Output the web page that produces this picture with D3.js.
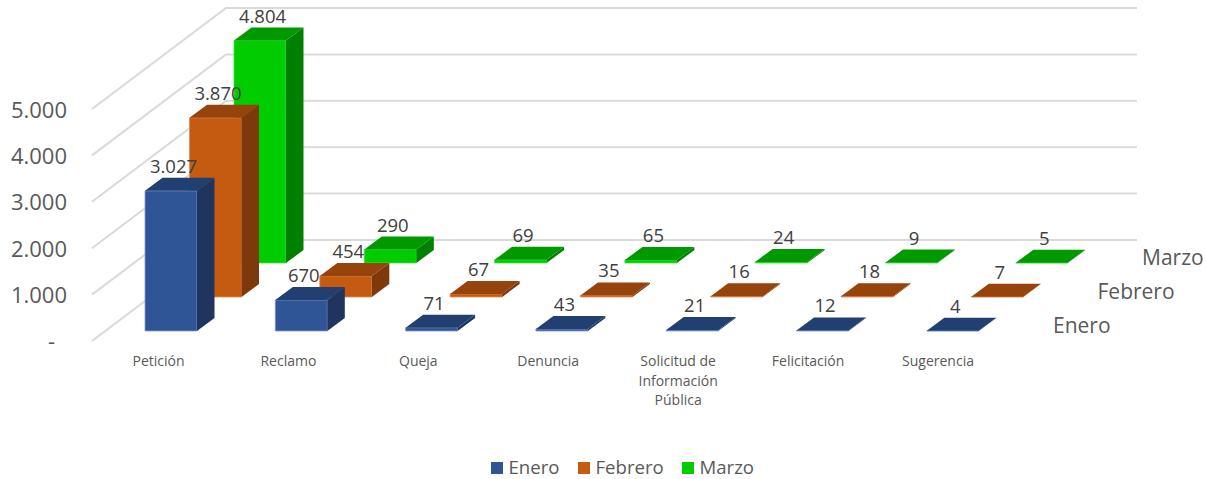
<!DOCTYPE html>
<html><head><meta charset="utf-8">
<script src="https://cdn.jsdelivr.net/npm/d3@7"></script>
<style>html,body{margin:0;padding:0;background:#fff}svg{display:block}text{font-family:"Open Sans",sans-serif}</style>
</head><body><svg id="c" width="1206" height="479"></svg>
<script>
const categories=["Petición","Reclamo","Queja","Denuncia","Solicitud de|Información|Pública","Felicitación","Sugerencia"];
const seriesNames=["Enero","Febrero","Marzo"];
const enero=[3027,670,71,43,21,12,4];
const febrero=[3870,454,67,35,16,18,7];
const marzo=[4804,290,69,65,24,9,5];
const yTicks=[0,1000,2000,3000,4000,5000];
const frontColors=["#2F5597","#C55A11","#00CC00"];
const sideColors=["#1F3560","#7D390B","#008000"];
const topColors=["#223F72","#96430C","#009A00"];
const edgeColors=["#7F9AD0","#E08A50","#40E040"];

const seriesValues=[enero,febrero,marzo];
const svg=d3.select("#c");
const x=d3.scaleBand().domain(categories).range([145,145+130.3*7]).paddingInner(0).paddingOuter(0);
const xLabel=d3.scalePoint().domain(categories).range([158.5,938]);
const barW=52;
const h=d3.scaleLinear().domain([0,5000]).range([0,231.5]);
const depthX=d3.scalePoint().domain(seriesNames).range([0,89]);
const depthY=d3.scalePoint().domain(seriesNames).range([331,263]);
const dx=17.5,dy=-13;
const locale=d3.formatLocale({decimal:",",thousands:".",grouping:[3],currency:["$",""]});
const fmt=locale.format(",d");

// Gridlines: side wall + back wall
const wallY=d3.scaleLinear().domain([0,5000]).range([240,8]);
const line=d3.line();
svg.append("g").selectAll("path").data(yTicks).join("path")
  .attr("d",v=>line([[92,wallY(v)+101],[226,wallY(v)],[1137,wallY(v)]]))
  .attr("fill","none").attr("stroke","#D9D9D9").attr("stroke-width",2);

// Value axis
const yAxisScale=d3.scaleLinear().domain([0,5000]).range([341.5,110.5]);
const axis=svg.append("g").attr("transform","translate(67,0)")
  .call(d3.axisLeft(yAxisScale).tickValues(yTicks).tickSize(0).tickPadding(0).tickFormat(v=>v===0?"-":fmt(v)));
axis.select(".domain").remove();
axis.selectAll("text").attr("font-size",22).attr("fill","#595959")
  .attr("font-family",'"Open Sans",sans-serif')
  .attr("dx",d=>d===0?-12:0);

// Bars, back series first
const bars=svg.append("g");
const labels=svg.append("g");
seriesNames.map((s,i)=>i).reverse().forEach(i=>{
  const s=seriesNames[i];
  const g=bars.append("g");
  const rows=categories.map((c,j)=>({c,v:seriesValues[i][j]}));
  const x0=d=>x(d.c)+depthX(s);
  const base=depthY(s);
  const top=d=>base-h(d.v);
  g.selectAll("path.front").data(rows).join("path").attr("class","front")
    .attr("d",d=>line([[x0(d),top(d)],[x0(d)+barW,top(d)],[x0(d)+barW,base],[x0(d),base]])+"Z")
    .attr("fill",frontColors[i]).attr("stroke",edgeColors[i]).attr("stroke-width",0.8);
  g.selectAll("path.side").data(rows).join("path").attr("class","side")
    .attr("d",d=>line([[x0(d)+barW,top(d)],[x0(d)+barW+dx,top(d)+dy],[x0(d)+barW+dx,base+dy],[x0(d)+barW,base]])+"Z")
    .attr("fill",sideColors[i]);
  g.selectAll("path.top").data(rows).join("path").attr("class","top")
    .attr("d",d=>line([[x0(d),top(d)],[x0(d)+dx,top(d)+dy],[x0(d)+barW+dx,top(d)+dy],[x0(d)+barW,top(d)]])+"Z")
    .attr("fill",topColors[i]);
  labels.selectAll(null).data(rows).join("text")
    .attr("x",d=>x0(d)+barW/2+2.5).attr("y",d=>top(d)-18)
    .attr("text-anchor","middle").attr("font-size",18.5).attr("fill","#404040")
    .text(d=>fmt(d.v));
});

// Category labels
svg.append("g").selectAll("text").data(categories).join("text")
  .attr("x",c=>xLabel(c)).attr("y",366).attr("text-anchor","middle")
  .attr("font-size",14).attr("fill","#595959")
  .each(function(c){
    d3.select(this).selectAll("tspan").data(c.split("|")).join("tspan")
      .attr("x",xLabel(c)).attr("dy",(d,i)=>i?19.5:0).text(d=>d);
  });

// Depth labels
svg.append("g").selectAll("text").data(seriesNames).join("text")
  .attr("x",s=>1053+depthX(s)).attr("y",s=>depthY(s)+1.5)
  .attr("font-size",21).attr("fill","#595959").text(s=>s);

// Legend
const legendX=d3.scaleOrdinal().domain(seriesNames).range([491,578,682]);
const lg=svg.append("g").selectAll("g").data(seriesNames).join("g")
  .attr("transform",s=>`translate(${legendX(s)},462)`);
lg.append("rect").attr("width",12).attr("height",12).attr("fill",(s,i)=>frontColors[i]);
lg.append("text").attr("x",17.5).attr("y",11.5).attr("font-size",18.6).attr("fill","#595959").text(s=>s);
</script></body></html>
